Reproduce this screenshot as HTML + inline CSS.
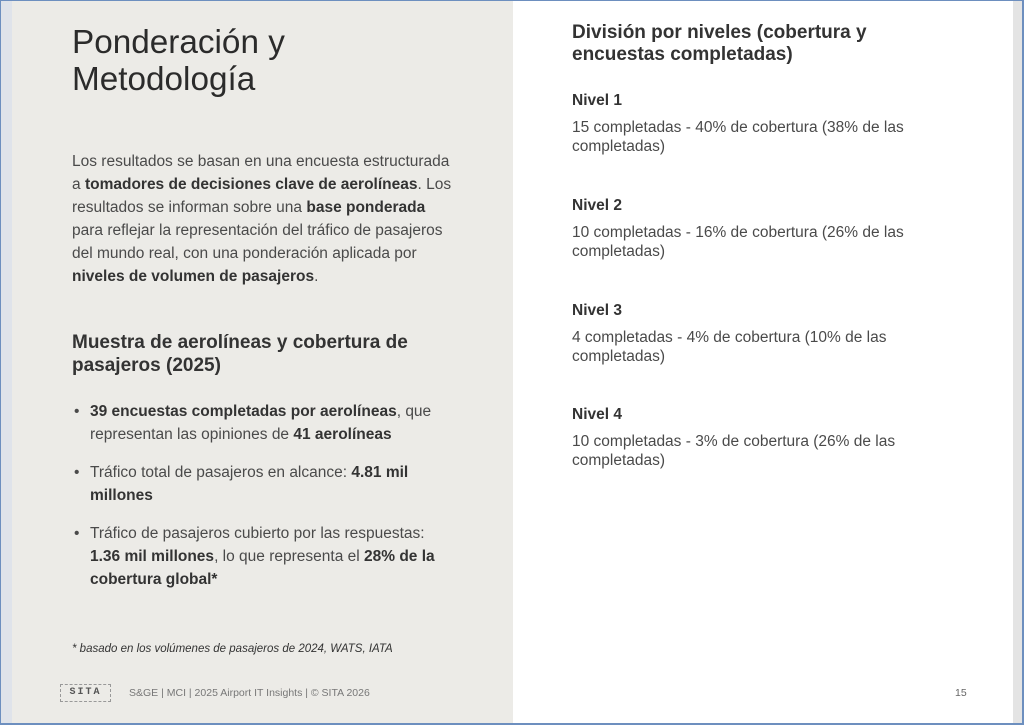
<!DOCTYPE html>
<html><head><meta charset="utf-8"><style>
*{margin:0;padding:0;box-sizing:border-box}
body{width:1024px;height:725px;position:relative;overflow:hidden;background:#fff;font-family:"Liberation Sans",sans-serif;color:#444}
.frame{position:absolute;inset:0;border:1px solid #6d8fbf;border-width:1px 2px 2px 1px;pointer-events:none}
.lstrip{position:absolute;left:1px;top:1px;width:11px;bottom:1px;background:#dfe3ea}
.left{position:absolute;left:12px;top:1px;width:501px;bottom:1px;background:#ecebe7}
.rstrip{position:absolute;left:1013px;top:1px;width:9px;bottom:1px;background:#e4e4e4}
.a{position:absolute;white-space:nowrap}
h1{position:absolute;left:72px;top:24px;font-weight:normal;font-size:33.3px;line-height:37px;color:#2b2b2b;white-space:nowrap}
.p{left:72px;top:150px;font-size:15.5px;line-height:23px;color:#4a4a4a}
b{color:#333}
h2{position:absolute;left:72px;top:331px;font-size:19px;line-height:23px;color:#333;white-space:nowrap}
ul{position:absolute;left:72px;top:400px;width:420px;list-style:none;font-size:15.5px;line-height:23px;color:#4a4a4a;white-space:nowrap}
li{position:relative;padding-left:18px;margin-bottom:15px}
li:before{content:"•";position:absolute;left:2px;top:0}
.fn{left:72px;top:643px;font-size:11.5px;font-style:italic;color:#333}
.logo{left:60px;top:684px;width:51px;height:18px;border:1px dashed #999;font-family:"Liberation Mono",monospace;font-size:10px;font-weight:bold;letter-spacing:2px;text-align:center;line-height:16px;color:#555}
.ft{left:129px;top:687px;font-size:10.5px;color:#777}
.pg{left:955px;top:687px;font-size:10.5px;color:#666}
h3{position:absolute;left:572px;top:22px;font-size:19px;line-height:22px;color:#333;white-space:nowrap}
.nv{position:absolute;left:572px;white-space:nowrap}
.nv .t{font-size:15.5px;font-weight:bold;color:#333;line-height:20px}
.nv .d{font-size:15.5px;line-height:19px;color:#4a4a4a;margin-top:7px}
</style></head><body>
<div class="lstrip"></div><div class="left"></div><div class="rstrip"></div>
<h1>Ponderación y<br>Metodología</h1>
<div class="a p">Los resultados se basan en una encuesta estructurada<br>a <b>tomadores de decisiones clave de aerolíneas</b>. Los<br>resultados se informan sobre una <b>base ponderada</b><br>para reflejar la representación del tráfico de pasajeros<br>del mundo real, con una ponderación aplicada por<br><b>niveles de volumen de pasajeros</b>.</div>
<h2>Muestra de aerolíneas y cobertura de<br>pasajeros (2025)</h2>
<ul>
<li><b>39 encuestas completadas por aerolíneas</b>, que<br>representan las opiniones de <b>41 aerolíneas</b></li>
<li>Tráfico total de pasajeros en alcance: <b>4.81 mil<br>millones</b></li>
<li>Tráfico de pasajeros cubierto por las respuestas:<br><b>1.36 mil millones</b>, lo que representa el <b>28% de la<br>cobertura global*</b></li>
</ul>
<div class="a fn">* basado en los volúmenes de pasajeros de 2024, WATS, IATA</div>
<div class="a logo">SITA</div>
<div class="a ft">S&amp;GE | MCI | 2025 Airport IT Insights | © SITA 2026</div>
<div class="a pg">15</div>
<h3>División por niveles (cobertura y<br>encuestas completadas)</h3>
<div class="nv" style="top:91px"><div class="t">Nivel 1</div><div class="d">15 completadas - 40% de cobertura (38% de las<br>completadas)</div></div>
<div class="nv" style="top:196px"><div class="t">Nivel 2</div><div class="d">10 completadas - 16% de cobertura (26% de las<br>completadas)</div></div>
<div class="nv" style="top:301px"><div class="t">Nivel 3</div><div class="d">4 completadas - 4% de cobertura (10% de las<br>completadas)</div></div>
<div class="nv" style="top:405px"><div class="t">Nivel 4</div><div class="d">10 completadas - 3% de cobertura (26% de las<br>completadas)</div></div>
<div class="frame"></div>
</body></html>
